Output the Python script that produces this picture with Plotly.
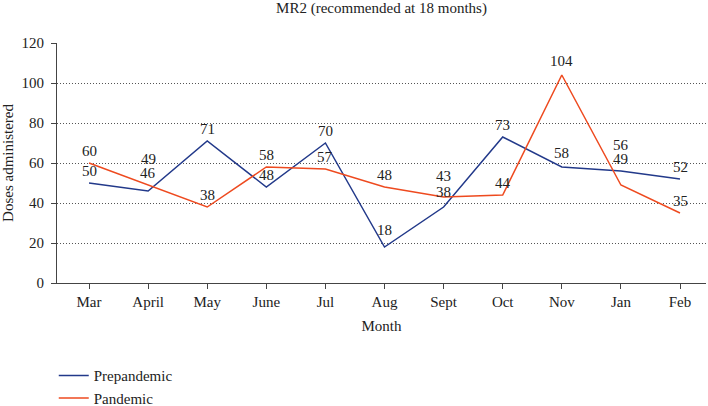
import plotly.graph_objects as go

months = ["Mar", "April", "May", "June", "Jul", "Aug", "Sept", "Oct", "Nov", "Jan", "Feb"]
prepandemic = [50, 46, 71, 48, 70, 18, 38, 73, 58, 56, 52]
pandemic = [60, 49, 38, 58, 57, 48, 43, 44, 104, 49, 35]

BLUE = "#22398a"
ORANGE = "#ee4a1f"
FONT = "Liberation Serif"
FS = 15

fig = go.Figure()
fig.add_trace(go.Scatter(x=months, y=prepandemic, mode="lines", name="Prepandemic",
                         line=dict(color=BLUE, width=1.5)))
fig.add_trace(go.Scatter(x=months, y=pandemic, mode="lines", name="Pandemic",
                         line=dict(color=ORANGE, width=1.5)))

# value labels (extra lift where labels crowd, as in the source)
extra = {
    ("Prepandemic", "April"): 6, ("Pandemic", "April"): 14,
    ("Prepandemic", "Sept"): 3, ("Pandemic", "Sept"): 9,
    ("Prepandemic", "Aug"): 5,
    ("Prepandemic", "Jan"): 14, ("Pandemic", "Jan"): 14,
    ("Prepandemic", "Nov"): 2, ("Pandemic", "Nov"): 2,
}
for name, series in (("Prepandemic", prepandemic), ("Pandemic", pandemic)):
    for m, v in zip(months, series):
        fig.add_annotation(x=m, y=v, text=str(v), showarrow=False, xanchor="center",
                           yanchor="bottom", yshift=2 + extra.get((name, m), 0),
                           font=dict(family=FONT, size=FS, color="#222"))

fig.update_layout(
    width=708, height=406,
    margin=dict(l=57, r=2, t=43, b=123, autoexpand=False),
    paper_bgcolor="white", plot_bgcolor="white",
    font=dict(family=FONT, size=FS, color="#222"),
    title=dict(text="MR2 (recommended at 18 months)", x=0.5, xref="paper",
               y=0.995, yanchor="top", font=dict(family=FONT, size=FS)),
    showlegend=True,
    legend=dict(orientation="v", x=-0.005, xanchor="left", y=-0.318, yanchor="top",
                font=dict(family=FONT, size=FS), tracegroupgap=0, itemwidth=30,
                bgcolor="rgba(0,0,0,0)"),
)
fig.update_xaxes(
    range=[-0.542, 10.44], showline=True, linecolor="#444", linewidth=1,
    ticks="outside", ticklen=5, tickcolor="#444", showgrid=False,
    title=dict(text="Month", font=dict(family=FONT, size=FS), standoff=11),
    tickfont=dict(family=FONT, size=FS),
)
fig.update_yaxes(
    range=[0, 120], dtick=20, showline=True, linecolor="#444", linewidth=1,
    ticks="outside", ticklen=5, tickcolor="#444", ticklabelstandoff=4,
    showgrid=True, gridcolor="#555", griddash="1px,2px", gridwidth=1, zeroline=False,
    title=dict(text="Doses administered", font=dict(family=FONT, size=FS), standoff=4),
    tickfont=dict(family=FONT, size=FS),
)
fig.write_html("out.html", config={"displayModeBar": False},
               post_script="document.body.style.margin='0';document.body.style.overflow='hidden';")
